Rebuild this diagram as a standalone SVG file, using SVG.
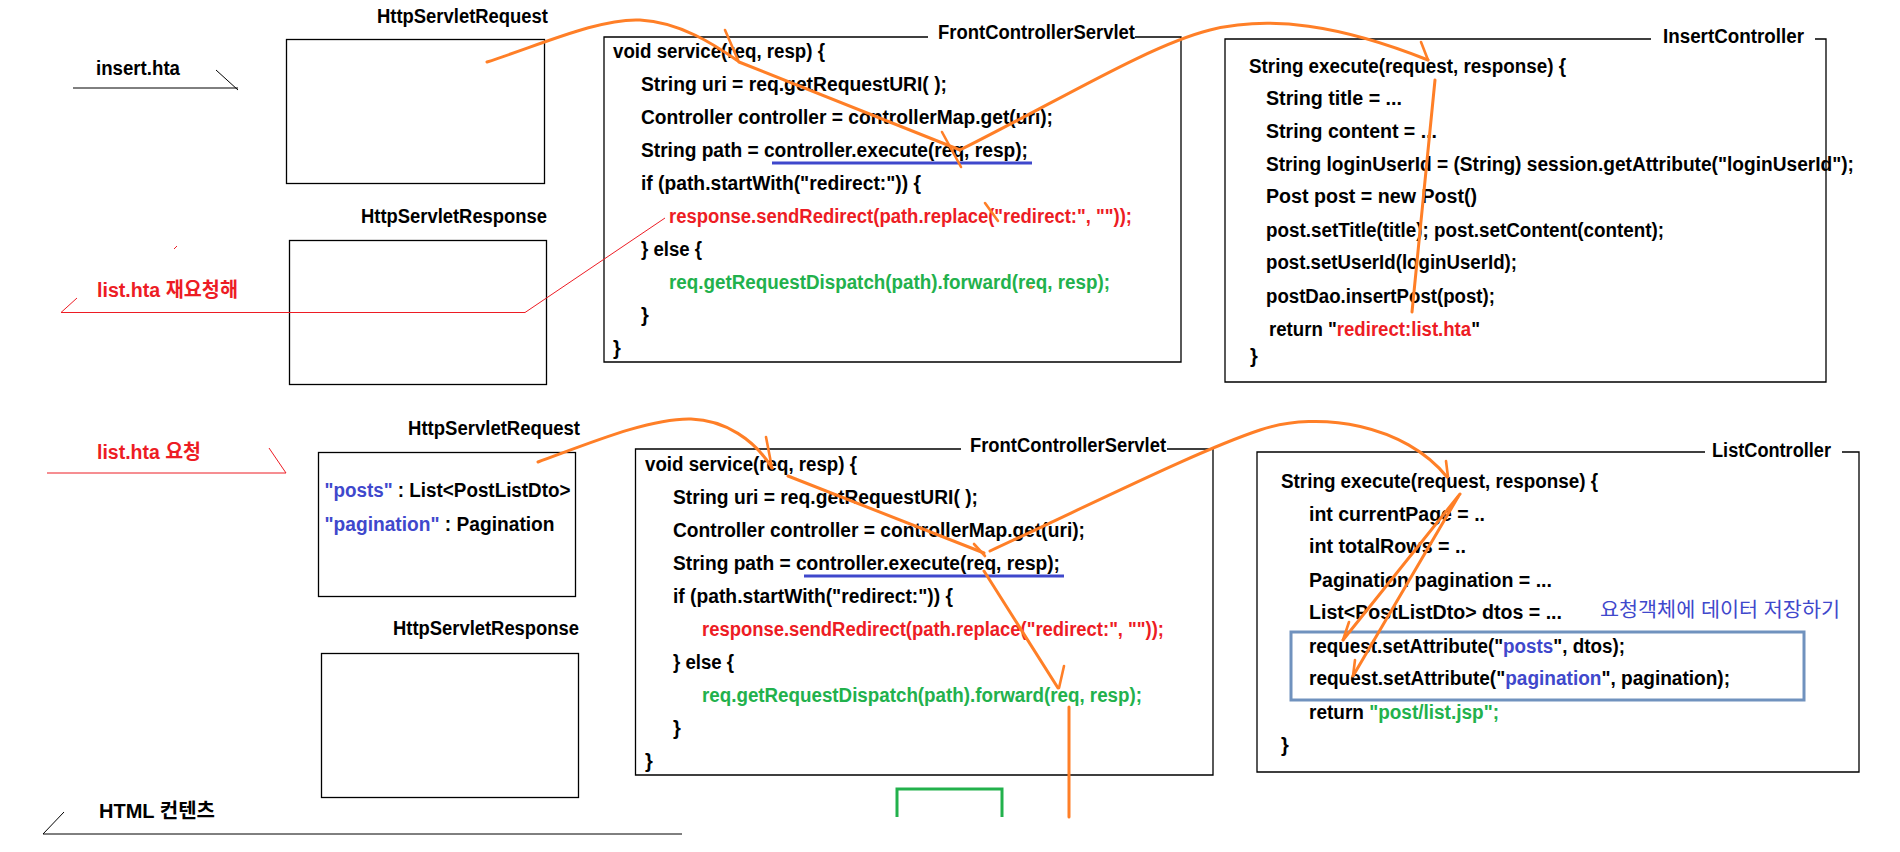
<svg xmlns="http://www.w3.org/2000/svg" width="1900" height="852" viewBox="0 0 1900 852">
<style>
  text { font-family: "Liberation Sans", "Noto Sans CJK KR", sans-serif; font-size: 20px; font-weight: bold; fill: #000; }
  .red { fill: #ED1C24; }
  .green { fill: #22B14C; }
  .blue { fill: #3F48CC; }
  .note { font-weight: normal; fill: #3F48CC; }
  .box { fill: none; stroke: #000; stroke-width: 1.3; }
  .thin { fill: none; stroke: #000; stroke-width: 1; }
  .redline { fill: none; stroke: #ED1C24; stroke-width: 1; }
  .flow { fill: none; stroke: #FF7F27; stroke-width: 3; stroke-linecap: round; stroke-linejoin: round; }
  .barb { fill: none; stroke: #FF7F27; stroke-width: 2.6; stroke-linecap: round; }
  .uline { stroke: #3F48CC; stroke-width: 3; }
  .store { fill: none; stroke: #7092BE; stroke-width: 3; }
  .page { fill: none; stroke: #22B14C; stroke-width: 3; }
</style>
<rect width="1900" height="852" fill="#fff"/>

<!-- ===== first request: insert.hta ===== -->
<g id="insert-hta">
  <text x="96" y="75" textLength="84" lengthAdjust="spacingAndGlyphs">insert.hta</text>
</g>

<g id="http-request-top">
  <text x="377" y="23" textLength="171" lengthAdjust="spacingAndGlyphs">HttpServletRequest</text>
  <rect class="box" x="286.5" y="39.5" width="258" height="144"/>
</g>

<g id="http-response-top">
  <text x="361" y="223" textLength="186" lengthAdjust="spacingAndGlyphs">HttpServletResponse</text>
  <rect class="box" x="289.5" y="240.5" width="257" height="144"/>
</g>

<g id="redirect-label">
  <text class="red" x="97" y="297" textLength="141" lengthAdjust="spacingAndGlyphs">list.hta 재요청해</text>
</g>

<g id="front-controller-top">
  <path class="box" d="M928,37 H604 V362 H1181 V37 H1135"/>
  <text x="938" y="39" textLength="197" lengthAdjust="spacingAndGlyphs">FrontControllerServlet</text>
  <text x="613" y="58" textLength="212" lengthAdjust="spacingAndGlyphs">void service(req, resp) {</text>
  <text x="641" y="91" textLength="306" lengthAdjust="spacingAndGlyphs">String uri = req.getRequestURI( );</text>
  <text x="641" y="124" textLength="412" lengthAdjust="spacingAndGlyphs">Controller controller = controllerMap.get(uri);</text>
  <text x="641" y="157" textLength="387" lengthAdjust="spacingAndGlyphs">String path = controller.execute(req, resp);</text>
  <line class="uline" x1="772" y1="163" x2="1032" y2="163"/>
  <text x="641" y="190" textLength="280" lengthAdjust="spacingAndGlyphs">if (path.startWith("redirect:")) {</text>
  <text class="red" x="669" y="223" textLength="463" lengthAdjust="spacingAndGlyphs">response.sendRedirect(path.replace("redirect:", ""));</text>
  <text x="641" y="256" textLength="61" lengthAdjust="spacingAndGlyphs">} else {</text>
  <text class="green" x="669" y="289" textLength="441" lengthAdjust="spacingAndGlyphs">req.getRequestDispatch(path).forward(req, resp);</text>
  <text x="641" y="322">}</text>
  <text x="613" y="355">}</text>
</g>

<g id="insert-controller">
  <path class="box" d="M1651,39 H1225 V382 H1826 V39 H1815"/>
  <text x="1663" y="43" textLength="141" lengthAdjust="spacingAndGlyphs">InsertController</text>
  <text x="1249" y="73" textLength="317" lengthAdjust="spacingAndGlyphs">String execute(request, response) {</text>
  <text x="1266" y="105" textLength="136" lengthAdjust="spacingAndGlyphs">String title = ...</text>
  <text x="1266" y="138" textLength="171" lengthAdjust="spacingAndGlyphs">String content = ...</text>
  <text x="1266" y="171" textLength="588" lengthAdjust="spacingAndGlyphs">String loginUserId = (String) session.getAttribute("loginUserId");</text>
  <text x="1266" y="203" textLength="211" lengthAdjust="spacingAndGlyphs">Post post = new Post()</text>
  <text x="1266" y="237" textLength="398" lengthAdjust="spacingAndGlyphs">post.setTitle(title); post.setContent(content);</text>
  <text x="1266" y="269" textLength="251" lengthAdjust="spacingAndGlyphs">post.setUserId(loginUserId);</text>
  <text x="1266" y="303" textLength="229" lengthAdjust="spacingAndGlyphs">postDao.insertPost(post);</text>
  <text x="1269" y="336" textLength="211" lengthAdjust="spacingAndGlyphs">return "<tspan class="red">redirect:list.hta</tspan>"</text>
  <text x="1250" y="363">}</text>
</g>

<!-- ===== second request: list.hta ===== -->
<g id="list-hta">
  <text class="red" x="97" y="459" textLength="104" lengthAdjust="spacingAndGlyphs">list.hta 요청</text>
</g>

<g id="http-request-bottom">
  <text x="408" y="435" textLength="172" lengthAdjust="spacingAndGlyphs">HttpServletRequest</text>
  <rect class="box" x="318.5" y="452.5" width="257" height="144"/>
  <text x="324.5" y="497" textLength="246" lengthAdjust="spacingAndGlyphs"><tspan class="blue">"posts"</tspan> : List&lt;PostListDto&gt;</text>
  <text x="324.5" y="531" textLength="230" lengthAdjust="spacingAndGlyphs"><tspan class="blue">"pagination"</tspan> : Pagination</text>
</g>

<g id="http-response-bottom">
  <text x="393" y="635" textLength="186" lengthAdjust="spacingAndGlyphs">HttpServletResponse</text>
  <rect class="box" x="321.5" y="653.5" width="257" height="144"/>
</g>

<g id="html-content">
  <text x="99" y="818" textLength="116" lengthAdjust="spacingAndGlyphs">HTML 컨텐츠</text>
</g>

<g id="front-controller-bottom">
  <path class="box" d="M961,449 H635.5 V775 H1213 V449 H1167"/>
  <text x="970" y="452" textLength="196" lengthAdjust="spacingAndGlyphs">FrontControllerServlet</text>
  <text x="645" y="471" textLength="212" lengthAdjust="spacingAndGlyphs">void service(req, resp) {</text>
  <text x="673" y="504" textLength="305" lengthAdjust="spacingAndGlyphs">String uri = req.getRequestURI( );</text>
  <text x="673" y="537" textLength="412" lengthAdjust="spacingAndGlyphs">Controller controller = controllerMap.get(uri);</text>
  <text x="673" y="570" textLength="387" lengthAdjust="spacingAndGlyphs">String path = controller.execute(req, resp);</text>
  <line class="uline" x1="804" y1="576" x2="1064" y2="576"/>
  <text x="673" y="603" textLength="280" lengthAdjust="spacingAndGlyphs">if (path.startWith("redirect:")) {</text>
  <text class="red" x="702" y="636" textLength="462" lengthAdjust="spacingAndGlyphs">response.sendRedirect(path.replace("redirect:", ""));</text>
  <text x="673" y="669" textLength="61" lengthAdjust="spacingAndGlyphs">} else {</text>
  <text class="green" x="702" y="702" textLength="440" lengthAdjust="spacingAndGlyphs">req.getRequestDispatch(path).forward(req, resp);</text>
  <text x="673" y="735">}</text>
  <text x="645" y="768">}</text>
</g>

<g id="list-controller">
  <path class="box" d="M1705,452 H1257 V772 H1859 V452 H1842"/>
  <text x="1712" y="457" textLength="119" lengthAdjust="spacingAndGlyphs">ListController</text>
  <text x="1281" y="488" textLength="317" lengthAdjust="spacingAndGlyphs">String execute(request, response) {</text>
  <text x="1309" y="521" textLength="176" lengthAdjust="spacingAndGlyphs">int currentPage = ..</text>
  <text x="1309" y="553" textLength="157" lengthAdjust="spacingAndGlyphs">int totalRows = ..</text>
  <text x="1309" y="587" textLength="243" lengthAdjust="spacingAndGlyphs">Pagination pagination = ...</text>
  <text x="1309" y="619" textLength="253" lengthAdjust="spacingAndGlyphs">List&lt;PostListDto&gt; dtos = ...</text>
  <text class="note" x="1600" y="617" textLength="240" lengthAdjust="spacingAndGlyphs">요청객체에 데이터 저장하기</text>
  <rect class="store" x="1291" y="632" width="513" height="68"/>
  <text x="1309" y="653" textLength="316" lengthAdjust="spacingAndGlyphs">request.setAttribute("<tspan class="blue">posts</tspan>", dtos);</text>
  <text x="1309" y="685" textLength="421" lengthAdjust="spacingAndGlyphs">request.setAttribute("<tspan class="blue">pagination</tspan>", pagination);</text>
  <text x="1309" y="719" textLength="190" lengthAdjust="spacingAndGlyphs">return <tspan class="green">"post/list.jsp";</tspan></text>
  <text x="1281" y="752">}</text>
</g>

<g id="jsp-page">
  <path class="page" d="M897,817 V789 H1002 V817"/>
</g>

<!-- ===== connectors ===== -->
<g id="connectors">
  <!-- browser requests / responses -->
  <path class="thin" d="M73,88 H238 M216,70 L238,90"/>
  <path class="redline" d="M665,218 L525,312.5 H61 L77,298"/>
  <path class="redline" d="M174,249 L177,246"/>
  <path class="redline" d="M47,473 H286 L269,448"/>
  <path class="thin" d="M682,834 H43 L64,812"/>

  <!-- flow of the first request -->
  <path class="flow" d="M487,62 C540,45 600,18 640,20 C680,22 715,45 738,61"/>
  <path class="barb" d="M725,30 L738,60"/>
  <path class="flow" d="M739,62 L960,150"/>
  <path class="barb" d="M942,132 L961,167"/>
  <path class="flow" d="M960,150 C1060,100 1150,45 1210,30 C1270,15 1340,25 1428,60"/>
  <path class="barb" d="M1421,42 L1428,60"/>
  <path class="flow" d="M1435,80 L1412,312"/>
  <path class="barb" d="M985,203 L998,221"/>
  <circle cx="1031" cy="287" r="1.6" fill="#FF7F27"/>

  <!-- flow of the second request -->
  <path class="flow" d="M538,462 C590,443 650,418 691,419 C725,420 755,440 772,468"/>
  <path class="barb" d="M766,437 L772,468"/>
  <path class="flow" d="M788,476 L984,553"/>
  <path class="barb" d="M974,544 L985,556"/>
  <path class="flow" d="M990,551 C1100,500 1200,450 1260,430 C1320,410 1405,425 1447,477"/>
  <path class="barb" d="M1446,461 L1448,477"/>
  <path class="flow" d="M1460,494 L1343,640"/>
  <path class="barb" d="M1349,622 L1343,640"/>
  <path class="flow" d="M1458,497 L1353,676"/>
  <path class="barb" d="M1355,660 L1353,676"/>
  <path class="flow" d="M984,571 L1058,688"/>
  <path class="barb" d="M1064,666 L1059,688"/>
  <path class="flow" d="M1069,707 V817"/>
</g>
</svg>
